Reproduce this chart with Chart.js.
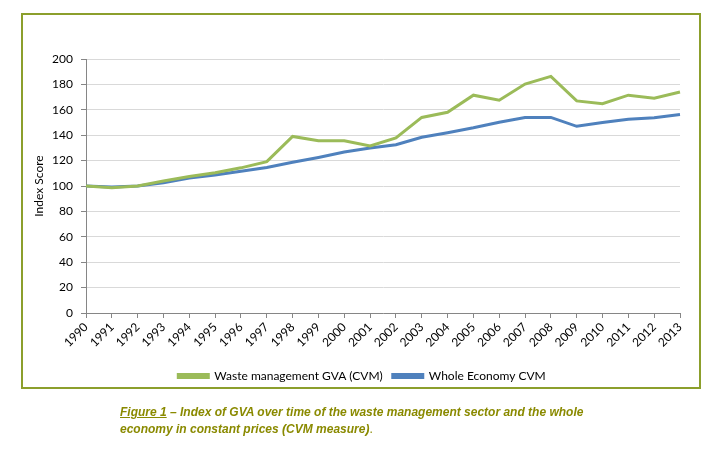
<!DOCTYPE html>
<html>
<head>
<meta charset="utf-8">
<script src="https://cdn.jsdelivr.net/npm/chart.js@4"></script>
<style>
  html, body { margin:0; padding:0; background:#fff; }
  #wrap { position:relative; width:720px; height:450px; }
  #frame { position:absolute; left:21px; top:13px; width:676px; height:372px; border:2px solid #8c9f2c; }
  #chart { position:absolute; left:0; top:0; }
  #caption { position:absolute; left:120px; top:404px; width:475px;
    font-family:"Liberation Sans", Arial, sans-serif; font-size:12px; font-weight:bold; font-style:italic;
    line-height:17px; color:#8a8a00; }
  #caption u { text-decoration:underline; }
  #caption .dot { font-weight:normal; font-style:normal; }
</style>
</head>
<body>
<div id="wrap">
  <div id="frame"></div>
  <canvas id="chart" width="720" height="450"></canvas>
  <div id="caption"><u>Figure 1</u> – Index of GVA over time of the waste management sector and the whole economy in constant prices (CVM measure)<span class="dot">.</span></div>
</div>
<script>
/* ====== DATA ====== */
const years = ["1990","1991","1992","1993","1994","1995","1996","1997","1998","1999","2000","2001",
               "2002","2003","2004","2005","2006","2007","2008","2009","2010","2011","2012","2013"];
const wasteGVA = [100, 98.7, 100, 104, 107.5, 110.5, 114.3, 119.2, 139, 135.7, 135.7, 131.5,
                  137.8, 154, 158, 171.5, 167.5, 180.3, 186.3, 167, 164.8, 171.5, 169.2, 174];
const wholeEconomy = [100, 99.2, 100, 102.6, 106.3, 108.7, 111.6, 114.5, 118.7, 122.5, 126.7, 129.9,
                      132.5, 138.4, 142, 145.8, 150.2, 154, 154, 147, 150, 152.6, 153.7, 156.3];
const yTicks = [0, 20, 40, 60, 80, 100, 120, 140, 160, 180, 200];

const GREEN = "#9bbb59", BLUE = "#4f81bd";
const FONT = "Lato, 'Open Sans', sans-serif";

// nudge the legend a bit right, Excel centres it on the whole frame
const legendShift = {
  id: "legendShift",
  afterLayout(chart){
    const lg = chart.legend;
    if (!lg) return;
    lg.left += 11; lg.right += 11;
  }
};

/* ====== CHART ====== */
new Chart(document.getElementById("chart"), {
  type: "line",
  data: {
    labels: years,
    datasets: [
      { label: "Waste management GVA (CVM)", data: wasteGVA, borderColor: GREEN, backgroundColor: GREEN,
        borderWidth: 3, pointRadius: 0, tension: 0 },
      { label: "Whole Economy CVM", data: wholeEconomy, borderColor: BLUE, backgroundColor: BLUE,
        borderWidth: 3, pointRadius: 0, tension: 0 }
    ]
  },
  options: {
    responsive: false,
    animation: false,
    layout: { padding: { top: 59, left: 22, right: 40, bottom: 58 } },
    plugins: {
      tooltip: { enabled: false },
      legend: {
        position: "bottom",
        labels: { boxWidth: 30, boxHeight: 3, padding: 10, color: "#000", font: { family: FONT, size: 12 } }
      }
    },
    scales: {
      x: {
        afterFit: s => { s.height = 47; },
        grid: { drawOnChartArea: false, tickLength: 5, tickColor: "#868686" },
        border: { color: "#868686" },
        ticks: { minRotation: 45, maxRotation: 45, padding: 2, color: "#000", autoSkip: false,
                 font: { family: FONT, size: 12 } }
      },
      y: {
        min: 0, max: 200,
        afterFit: s => { s.width = 64; },
        afterBuildTicks: s => { s.ticks = yTicks.map(v => ({ value: v })); },
        grid: { color: "#d9d9d9", tickLength: 5, tickColor: "#868686" },
        border: { color: "#868686" },
        ticks: { padding: 8, color: "#000", font: { family: FONT, size: 12 } },
        title: { display: true, text: "Index Score", color: "#000", padding: { top: 10, bottom: 0 },
                 font: { family: FONT, size: 12 } }
      }
    }
  },
  plugins: [legendShift]
});
</script>
</body>
</html>
